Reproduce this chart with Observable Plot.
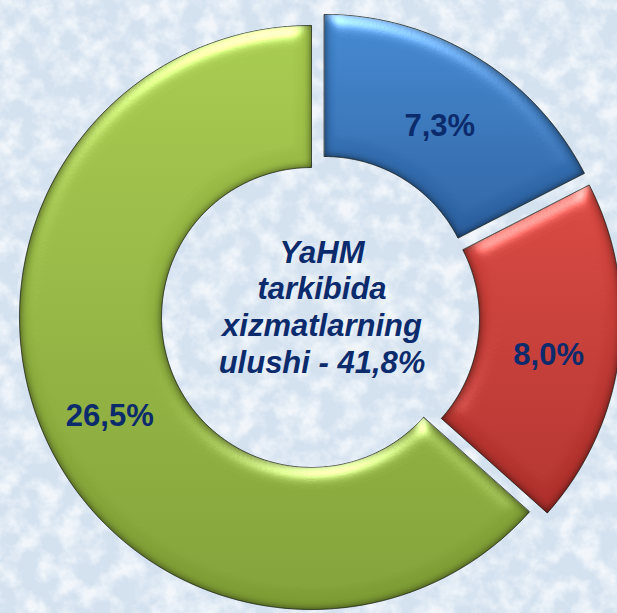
<!DOCTYPE html>
<html><head><meta charset="utf-8">
<script src="https://cdn.jsdelivr.net/npm/d3@7"></script>
<script src="https://cdn.jsdelivr.net/npm/@observablehq/plot@0.6"></script>
<style>
html,body{margin:0;padding:0;background:#d9e6f3;overflow:hidden}
#chart svg{display:block}
</style>
</head><body><div id="chart"></div>
<script>
// ---- data ----
const segments = ["seg1", "seg2", "seg3"];
const values = [7.3, 8.0, 26.5];
const valueLabels = ["7,3%", "8,0%", "26,5%"];
const centerLines = ["YaHM", "tarkibida", "xizmatlarning", "ulushi - 41,8%"];

// ---- layout / style ----
const W = 617, H = 613;
const CX = 311, CY = 317;          // donut centre in px
const R_OUT = 292, R_IN = 150;
const explode = [[13, -11], [18, 1], [0, 0]]; // px offset of each slice
const gradIds = ["gBlue", "gRed", "gGreen"];
const labelColor = "#0c2b6c";
const font = "'Liberation Sans', Arial, sans-serif";

const arcs = d3.pie().sort(null).value(d => d)(values);
const ringPts = [];
arcs.forEach((a, i) => {
  const [ox, oy] = explode[i];
  const n = 120;
  for (let k = 0; k <= n; k++) {
    const t = a.startAngle + (a.endAngle - a.startAngle) * k / n;
    ringPts.push({seg: segments[i], x: ox + R_OUT * Math.sin(t), y: oy - R_OUT * Math.cos(t)});
  }
  for (let k = n; k >= 0; k--) {
    const t = a.startAngle + (a.endAngle - a.startAngle) * k / n;
    ringPts.push({seg: segments[i], x: ox + R_IN * Math.sin(t), y: oy - R_IN * Math.cos(t)});
  }
});
const labelPts = arcs.map((a, i) => {
  const m = (a.startAngle + a.endAngle) / 2, r = (R_OUT + R_IN) / 2;
  return {x: explode[i][0] + r * Math.sin(m), y: explode[i][1] - r * Math.cos(m), text: valueLabels[i]};
});

const svg = Plot.plot({
  width: W, height: H, margin: 0,
  x: {domain: [-CX, W - CX], range: [0, W], axis: null},
  y: {domain: [-CY, H - CY], range: [0, H], axis: null},
  color: {domain: segments, range: gradIds.map(id => `url(#${id})`)},
  style: {background: "transparent", overflow: "visible"},
  marks: [
    Plot.line(ringPts, {x: "x", y: "y", z: "seg", fill: "seg", stroke: "rgba(20,25,10,0.6)", strokeWidth: 1, curve: "linear-closed"}),
    Plot.text(labelPts, {x: "x", y: "y", text: "text", fontSize: 31, fontWeight: "bold", fill: labelColor, fontFamily: font, dy: 8}),
    Plot.text([centerLines.join("\n")], {frameAnchor: "middle", text: d => d, fontSize: 31, fontWeight: "bold", fontStyle: "italic", lineHeight: 1.18, fill: labelColor, fontFamily: font, dx: 13, dy: -1})
  ]
});

const s = d3.select(svg);
const defs = s.insert("defs", ":first-child");
function grad(id, top, bottom) {
  const g = defs.append("linearGradient").attr("id", id).attr("x1", 0).attr("y1", 0).attr("x2", 0).attr("y2", 1);
  g.append("stop").attr("offset", "0%").attr("stop-color", top);
  g.append("stop").attr("offset", "100%").attr("stop-color", bottom);
}
grad("gBlue", "#4084cc", "#2b5f9e");
grad("gRed", "#d3443d", "#ad2f2b");
grad("gGreen", "#a2c54b", "#7d9c34");

defs.html(defs.html() + `
<filter id="tex" x="0" y="0" width="100%" height="100%">
  <feTurbulence type="fractalNoise" baseFrequency="0.05" numOctaves="4" seed="7" result="n"/>
  <feColorMatrix in="n" type="matrix" values="0 0 0 0 1  0 0 0 0 1  0 0 0 0 1  2.6 0 0 0 -1.0"/>
</filter>
<filter id="bevel" x="-5%" y="-5%" width="110%" height="110%" color-interpolation-filters="sRGB">
  <feGaussianBlur in="SourceAlpha" stdDeviation="4.5" result="blur"/>
  <feComponentTransfer in="blur" result="inv"><feFuncA type="table" tableValues="1 0"/></feComponentTransfer>
  <feFlood flood-color="#000" flood-opacity="0.7" result="fl"/>
  <feComposite in="fl" in2="inv" operator="in" result="e1"/>
  <feComposite in="e1" in2="SourceAlpha" operator="in" result="edge"/>
  <feGaussianBlur in="SourceAlpha" stdDeviation="9" result="blur2"/>
  <feSpecularLighting in="blur2" surfaceScale="6" specularConstant="0.95" specularExponent="30" lighting-color="#ffffff" result="spec">
    <feDistantLight azimuth="262" elevation="40"/>
  </feSpecularLighting>
  <feComposite in="spec" in2="SourceAlpha" operator="in" result="specIn"/>
  <feMerge result="base"><feMergeNode in="SourceGraphic"/><feMergeNode in="edge"/></feMerge>
  <feComposite in="base" in2="specIn" operator="arithmetic" k1="0" k2="1" k3="0.55" k4="0"/>
</filter>`);

s.insert("rect", "defs + *").attr("width", W).attr("height", H).attr("fill", "#d4e2f0");
s.insert("rect", "rect + *").attr("width", W).attr("height", H).attr("filter", "url(#tex)").attr("opacity", 0.7);
s.selectAll('g[aria-label="line"] path').attr("filter", "url(#bevel)");

document.getElementById("chart").appendChild(svg);
</script>
</body></html>
